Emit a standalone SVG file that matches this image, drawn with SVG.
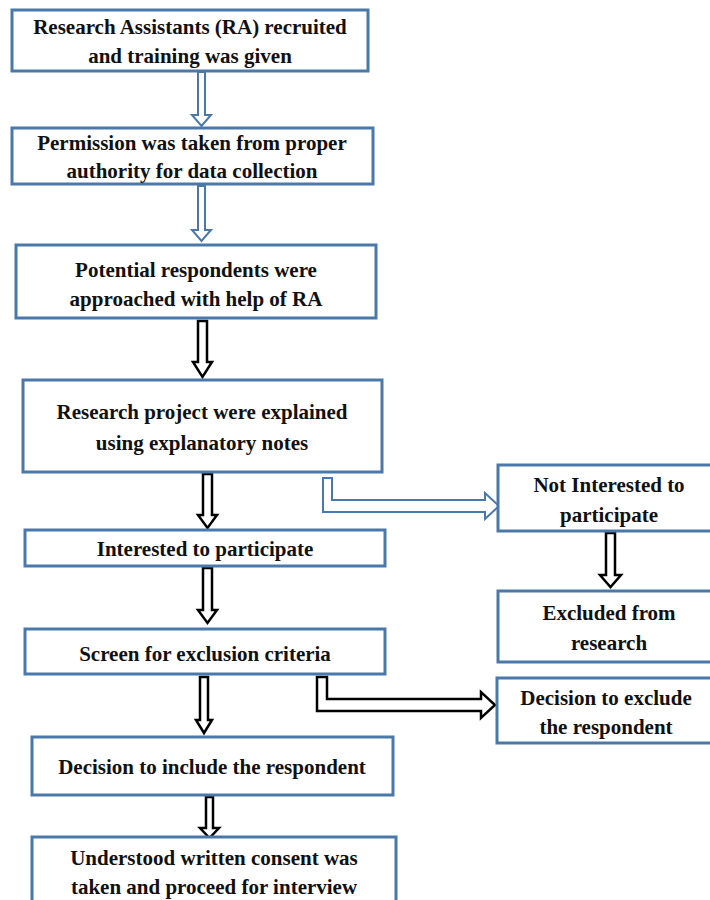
<svg xmlns="http://www.w3.org/2000/svg" width="710" height="900" viewBox="0 0 710 900">
<style>
.box{fill:#fff;stroke:#4a78a8;stroke-width:3}
.t{font-family:"Liberation Serif","Times New Roman",serif;font-weight:bold;font-size:21px;fill:#111;text-anchor:middle}
.ab{fill:#fff;stroke:#4a78a8;stroke-width:2;stroke-linejoin:miter}
.ak{fill:#fff;stroke:#000;stroke-width:2.5;stroke-linejoin:miter}
</style>
<rect width="710" height="900" fill="#fff"/>
<g id="connectors">
<polygon class="ab" points="198,72 205,72 205,115 211,115 201.5,126 192,115 198,115"/>
<polygon class="ab" points="198,186 205,186 205,230 211,230 201.5,241 192,230 198,230"/>
<polygon class="ak" points="198,321 207,321 207,362 212,362 202.5,377 193,362 198,362"/>
<polygon class="ak" points="203,474 212,474 212,515 217,515 207.5,528 198,515 203,515"/>
<polygon class="ak" points="203,568 212,568 212,610 217,610 207.5,623 198,610 203,610"/>
<polygon class="ak" points="200,677 208,677 208,720 212,720 204,733 196,720 200,720"/>
<polygon class="ak" points="206,797 213,797 213,828 219,828 209.5,838 200,828 206,828"/>
<polygon class="ak" points="606,533 615,533 615,575 621,575 610.5,587 600,575 606,575"/>
<polygon class="ab" points="323,478 332,478 332,500 485,500 485,493 499,506 485,519 485,512 323,512"/>
<polygon class="ak" points="317,677 327,677 327,699 481,699 481,692 495,705 481,718 481,711 317,711"/>
</g>
<g id="n1"><rect class="box" x="12" y="10" width="356" height="61"/>
<text class="t" x="190" y="34">Research Assistants (RA) recruited</text>
<text class="t" x="190" y="63">and training was given</text></g>
<g id="n2"><rect class="box" x="12" y="128" width="361" height="56"/>
<text class="t" x="192" y="150">Permission was taken from proper</text>
<text class="t" x="192" y="178">authority for data collection</text></g>
<g id="n3"><rect class="box" x="16" y="245" width="360" height="73"/>
<text class="t" x="196" y="277">Potential respondents were</text>
<text class="t" x="196" y="306">approached with help of RA</text></g>
<g id="n4"><rect class="box" x="23" y="380" width="359" height="92"/>
<text class="t" x="202" y="419">Research project were explained</text>
<text class="t" x="202" y="450">using explanatory notes</text></g>
<g id="n5"><rect class="box" x="25" y="530" width="360" height="36"/>
<text class="t" x="205" y="556">Interested to participate</text></g>
<g id="n6"><rect class="box" x="25" y="629" width="360" height="45"/>
<text class="t" x="205" y="661">Screen for exclusion criteria</text></g>
<g id="n7"><rect class="box" x="32" y="737" width="361" height="58"/>
<text class="t" x="212" y="774">Decision to include the respondent</text></g>
<g id="n8"><rect class="box" x="32" y="837" width="364" height="70"/>
<text class="t" x="214" y="865">Understood written consent was</text>
<text class="t" x="214" y="894">taken and proceed for interview</text></g>
<g id="n9"><rect class="box" x="498" y="465" width="214" height="66"/>
<text class="t" x="609" y="492">Not Interested to</text>
<text class="t" x="609" y="522">participate</text></g>
<g id="n10"><rect class="box" x="498" y="591" width="214" height="71"/>
<text class="t" x="609" y="620">Excluded from</text>
<text class="t" x="609" y="650">research</text></g>
<g id="n11"><rect class="box" x="497" y="678" width="215" height="65"/>
<text class="t" x="606" y="705">Decision to exclude</text>
<text class="t" x="606" y="734">the respondent</text></g>
</svg>
